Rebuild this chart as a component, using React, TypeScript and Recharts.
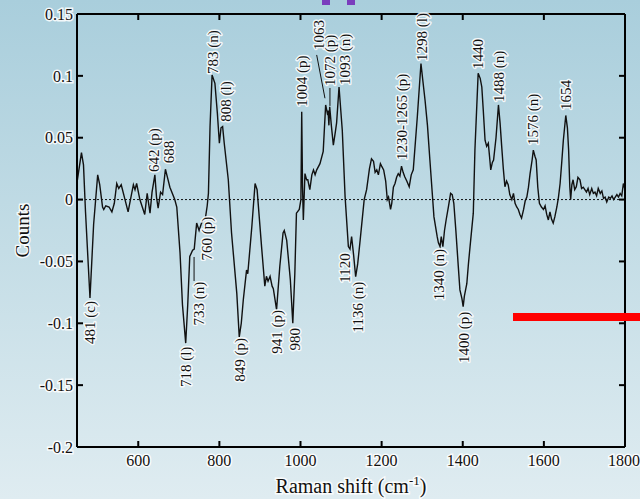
import React from 'react';
import { LineChart, Line, XAxis, YAxis, ReferenceLine, ReferenceDot } from 'recharts';

const shifts = [450,460,465,470,481,490,500,505,512,515,520,528,535,541,547,552,558,565,575,582,588,592,596,604,610,616,622,629,634,641,645,649,655,660,667,672,678,690,695,703,709,717,722,727,734,738,744,750,755,760,766,770,773,777,782,789,795,800,804,808,812,822,830,843,849,854,859,867,870,880,888,893,904,912,916,920,925,930,933,941,949,957,960,966,975,981,986,990,997,1001,1003,1005,1007,1011,1015,1018,1023,1028,1032,1036,1040,1048,1056,1062,1066,1068,1070,1072,1076,1081,1086,1089,1095,1103,1110,1118,1122,1126,1131,1136,1141,1147,1157,1163,1170,1175,1180,1184,1188,1192,1197,1200,1205,1210,1214,1217,1222,1225,1229,1233,1237,1241,1245,1249,1253,1257,1262,1268,1273,1278,1288,1297,1302,1307,1313,1319,1329,1337,1340,1344,1347,1351,1355,1359,1365,1370,1374,1378,1383,1389,1393,1398,1401,1404,1410,1414,1418,1426,1430,1438,1443,1447,1451,1455,1459,1463,1466,1469,1473,1476,1482,1488,1492,1496,1500,1504,1508,1512,1516,1521,1525,1529,1533,1537,1541,1545,1550,1554,1558,1562,1566,1571,1574,1578,1581,1585,1589,1594,1599,1603,1607,1611,1615,1619,1623,1627,1632,1636,1640,1644,1648,1654,1658,1661,1664,1666,1669,1672,1676,1680,1684,1689,1693,1697,1701,1705,1709,1713,1718,1722,1726,1730,1734,1739,1743,1747,1751,1755,1760,1764,1768,1772,1776,1780,1784,1788,1792,1796,1800];

const counts = [0.016,0.038,0.028,-0.01,-0.0795,-0.02,0.02,0.012,-0.006,-0.008,-0.005,-0.006,-0.01,-0.003,0.013,0.009,0.012,0.003,-0.01,0.002,0.012,0.008,0.013,0,-0.006,-0.012,0.005,-0.011,0.006,0.02,0.002,-0.007,0.006,0.004,0.0245,0.018,0.01,0,-0.006,-0.043,-0.085,-0.116,-0.085,-0.046,-0.041,-0.04,-0.019,-0.025,-0.02,-0.0165,-0.014,-0.005,0.005,0.059,0.1007,0.094,0.07,0.0455,0.058,0.059,0.0455,0.016,-0.027,-0.076,-0.111,-0.1,-0.081,-0.057,-0.06,-0.022,0.013,0.008,-0.038,-0.07,-0.062,-0.066,-0.062,-0.07,-0.072,-0.089,-0.054,-0.027,-0.025,-0.033,-0.065,-0.1,-0.06,-0.011,-0.008,0,0.071,0.01,-0.0165,0.021,0.016,0.016,0.008,0.02,0.024,0.02,0.024,0.029,0.039,0.0765,0.07,0.072,0.06,0.075,0.06,0.044,0.055,0.062,0.091,0.056,0.002,-0.038,-0.04,-0.03,-0.045,-0.0623,-0.052,-0.033,0,0.008,0.025,0.033,0.031,0.022,0.024,0.02,0.029,0.027,0.024,0.015,0,0.002,-0.008,-0.003,0.01,0.013,0.018,0.021,0.019,0.027,0.022,0.0185,0.015,0.0104,0.02,0.024,0.067,0.11,0.095,0.0805,0.06,0.032,-0.014,-0.03,-0.035,-0.038,-0.03,-0.038,-0.025,-0.0165,-0.005,0.005,0.004,-0.003,-0.025,-0.054,-0.073,-0.08,-0.0866,-0.078,-0.068,-0.052,-0.038,-0.011,0.04,0.102,0.098,0.091,0.07,0.048,0.043,0.0455,0.035,0.024,0.03,0.032,0.05,0.0765,0.062,0.043,0.025,0.0104,0.015,0.012,0.004,0,0.005,-0.003,-0.006,-0.008,-0.012,-0.015,-0.008,-0.001,0.002,0.01,0.021,0.032,0.04,0.035,0.032,0.01,-0.003,-0.006,-0.008,-0.005,-0.012,-0.0165,-0.01,-0.016,-0.019,-0.014,-0.006,0.002,0.013,0.03,0.048,0.068,0.058,0.04,0.01,0,0.012,0.016,0.008,0.0104,0.018,0.016,0.009,0.01,0.008,0.006,0.009,0.004,0.009,0.005,0.006,0.003,0.009,0.005,0.007,0.001,0.002,-0.002,0.002,0.001,0.003,0,0.002,0.004,0.002,0.005,0.003,0.013,0.008];

const xTicks = [600, 800, 1000, 1200, 1400, 1600, 1800];
const yTicks = [-0.2, -0.15, -0.1, -0.05, 0, 0.05, 0.1, 0.15];

// peak labels: text sits above the anchor point (data units)
const peakLabels = [
  { text: '642 (p)', x: 638.7, y: 0.0223 },
  { text: '688', x: 676.4, y: 0.0293 },
  { text: '783 (n)', x: 783.4, y: 0.1015 },
  { text: '808 (l)', x: 816.2, y: 0.063 },
  { text: '1004 (p)', x: 1002.9, y: 0.0751 },
  { text: '1063', x: 1046, y: 0.121 },
  { text: '1072 (p)', x: 1072.6, y: 0.0918 },
  { text: '1093 (n)', x: 1109.7, y: 0.0926 },
  { text: '1230-1265 (p)', x: 1249.4, y: 0.032 },
  { text: '1298 (l)', x: 1298.7, y: 0.112 },
  { text: '1440', x: 1438.3, y: 0.1056 },
  { text: '1488 (n)', x: 1489.3, y: 0.0789 },
  { text: '1576 (n)', x: 1573.9, y: 0.0441 },
  { text: '1654', x: 1653.8, y: 0.0724 },
];

// valley labels: text sits below the anchor point (data units)
const valleyLabels = [
  { text: '481 (c)', x: 480.9, y: -0.082 },
  { text: '718 (l)', x: 716.9, y: -0.1189 },
  { text: '733 (n)', x: 749.7, y: -0.0664 },
  { text: '760 (p)', x: 768.6, y: -0.0138 },
  { text: '849 (p)', x: 850.8, y: -0.1119 },
  { text: '941 (p)', x: 941.2, y: -0.0892 },
  { text: '980', x: 986.4, y: -0.1038 },
  { text: '1120', x: 1109.7, y: -0.0434 },
  { text: '1136 (n)', x: 1142.4, y: -0.0664 },
  { text: '1340 (n)', x: 1341.4, y: -0.0399 },
  { text: '1400 (p)', x: 1403, y: -0.0906 },
];

const leaders = [
  { x1: 1039.9, y1: 0.1169, x2: 1060.3, y2: 0.0819 },
  { x1: 1072.6, y1: 0.0902, x2: 1072.6, y2: 0.0757 },
  { x1: 737.6, y1: -0.0464, x2: 737.6, y2: -0.0658 },
];

const data = shifts.map((s, i) => ({ shift: s, count: counts[i] }));

const FONT = '"Liberation Serif", "Times New Roman", serif';

const makeRot = (text: string, anchor: 'start' | 'end') => (props: any) => {
  const { cx, cy } = props;
  if (cx == null || cy == null) return <g />;
  return (
    <text
      x={cx}
      y={cy}
      transform={`rotate(-90 ${cx} ${cy})`}
      textAnchor={anchor}
      dominantBaseline="central"
      fontFamily={FONT}
      fontSize={15}
      fill="#111"
      stroke="rgba(255,255,255,0.85)"
      strokeWidth={3}
      strokeLinejoin="round"
      paintOrder="stroke"
    >
      {text}
    </text>
  );
};

const tickStyle = {
  fontFamily: FONT,
  fontSize: 16,
  fill: '#111',
  stroke: 'rgba(255,255,255,0.85)',
  strokeWidth: 3,
  paintOrder: 'stroke',
} as any;

const XTitle = (props: any) => {
  const vb = props.viewBox || {};
  const cx = (vb.x ?? 77) + (vb.width ?? 548) / 2;
  const y = (vb.y ?? 447) + 46;
  return (
    <text x={cx} y={y} textAnchor="middle" fontFamily={FONT} fontSize={20} fill="#111"
      stroke="rgba(255,255,255,0.85)" strokeWidth={3} paintOrder="stroke">
      Raman shift (cm<tspan dy={-8} fontSize={13}>-1</tspan><tspan dy={8}>)</tspan>
    </text>
  );
};

const YTitle = (props: any) => {
  const vb = props.viewBox || {};
  const cy = (vb.y ?? 14) + (vb.height ?? 433) / 2;
  const cx = 22;
  return (
    <text x={cx} y={cy} transform={`rotate(-90 ${cx} ${cy})`} textAnchor="middle" dominantBaseline="central"
      fontFamily={FONT} fontSize={19} fill="#111" stroke="rgba(255,255,255,0.85)" strokeWidth={3} paintOrder="stroke">
      Counts
    </text>
  );
};

export default function App() {
  return (
    <div
      style={{
        position: 'absolute',
        left: 0,
        top: 0,
        width: 640,
        height: 499,
        overflow: 'hidden',
        background: 'linear-gradient(to bottom, #a9cedc 0%, #c4dde6 50%, #dfecf1 100%)',
      }}
    >
      <LineChart width={640} height={499} data={data} margin={{ top: 14, right: 15, bottom: 22, left: 17 }}>
        <XAxis
          xAxisId="b"
          dataKey="shift"
          type="number"
          domain={[449, 1800]}
          ticks={xTicks}
          allowDataOverflow
          height={30}
          axisLine={{ stroke: '#000', strokeWidth: 2 }}
          tickLine={{ stroke: '#000', strokeWidth: 2 }}
          tickSize={-6}
          tickMargin={14}
          tick={tickStyle}
          label={<XTitle />}
        />
        <XAxis
          xAxisId="t"
          dataKey="shift"
          type="number"
          orientation="top"
          mirror
          domain={[449, 1800]}
          ticks={xTicks}
          allowDataOverflow
          axisLine={{ stroke: '#000', strokeWidth: 2 }}
          tickLine={{ stroke: '#000', strokeWidth: 2 }}
          tickSize={6}
          tickFormatter={() => ''}
        />
        <YAxis
          yAxisId="l"
          type="number"
          domain={[-0.2, 0.15]}
          ticks={yTicks}
          allowDataOverflow
          width={60}
          axisLine={{ stroke: '#000', strokeWidth: 2 }}
          tickLine={{ stroke: '#000', strokeWidth: 2 }}
          tickSize={-6}
          tickMargin={10}
          tick={tickStyle}
          label={<YTitle />}
        />
        <YAxis
          yAxisId="r"
          type="number"
          orientation="right"
          mirror
          domain={[-0.2, 0.15]}
          ticks={yTicks}
          allowDataOverflow
          axisLine={{ stroke: '#000', strokeWidth: 2 }}
          tickLine={{ stroke: '#000', strokeWidth: 2 }}
          tickSize={6}
          tickFormatter={() => ''}
        />
        <ReferenceLine xAxisId="b" yAxisId="l" y={0} stroke="#111" strokeDasharray="2 2" strokeWidth={1} />
        <Line
          xAxisId="b"
          yAxisId="l"
          type="linear"
          dataKey="count"
          stroke="#111"
          strokeWidth={1.4}
          dot={false}
          isAnimationActive={false}
        />
        {leaders.map((l, i) => (
          <ReferenceLine
            key={'ld' + i}
            xAxisId="b"
            yAxisId="l"
            segment={[{ x: l.x1, y: l.y1 }, { x: l.x2, y: l.y2 }]}
            stroke="#111"
            strokeWidth={1}
          />
        ))}
        {peakLabels.map((p, i) => (
          <ReferenceDot key={'p' + i} xAxisId="b" yAxisId="l" x={p.x} y={p.y} r={0} shape={makeRot(p.text, 'start')} />
        ))}
        {valleyLabels.map((p, i) => (
          <ReferenceDot key={'v' + i} xAxisId="b" yAxisId="l" x={p.x} y={p.y} r={0} shape={makeRot(p.text, 'end')} />
        ))}
      </LineChart>
      <div style={{ position: 'absolute', left: 322, top: 0, width: 8, height: 5, background: '#7a3dbd' }} />
      <div style={{ position: 'absolute', left: 347, top: 0, width: 8, height: 5, background: '#7a3dbd' }} />
      <div style={{ position: 'absolute', left: 513, top: 313, width: 127, height: 8, background: '#ff0000' }} />
    </div>
  );
}
